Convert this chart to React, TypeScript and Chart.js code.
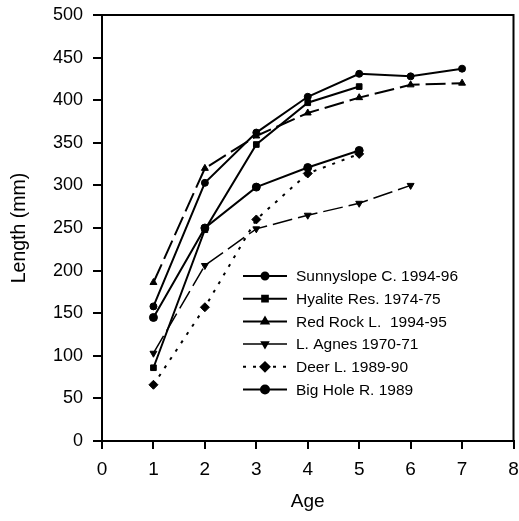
import React, { useEffect, useRef } from "react";
import { Chart, registerables } from "chart.js";
import { drawPoint } from "chart.js/helpers";

Chart.register(...registerables);

const seriesNames = [
  "Sunnyslope C. 1994-96",
  "Hyalite Res. 1974-75",
  "Red Rock L.  1994-95",
  "L. Agnes 1970-71",
  "Deer L. 1989-90",
  "Big Hole R. 1989",
];

const sunnyslopeAges = [1, 2, 3, 4, 5, 6, 7];
const sunnyslopeLength = [158, 303, 362, 404, 431, 428, 437];

const hyaliteAges = [1, 2, 3, 4, 5];
const hyaliteLength = [86, 248, 348, 397, 416];

const redRockAges = [1, 2, 3, 4, 5, 6, 7];
const redRockLength = [186, 320, 358, 385, 403, 418, 420];

const lAgnesAges = [1, 2, 3, 4, 5, 6];
const lAgnesLength = [103, 206, 249, 265, 279, 300];

const deerAges = [1, 2, 3, 4, 5];
const deerLength = [66, 157, 260, 314, 337];

const bigHoleAges = [1, 2, 3, 4, 5];
const bigHoleLength = [145, 250, 298, 321, 341];

const xTicks = [0, 1, 2, 3, 4, 5, 6, 7, 8];
const yTicks = [0, 50, 100, 150, 200, 250, 300, 350, 400, 450, 500];

const FONT = "'Liberation Sans', Arial, Helvetica, sans-serif";

function pts(ages: number[], vals: number[]) {
  return ages.map((a, i) => ({ x: a, y: vals[i] }));
}

const legendPlugin = {
  id: "customLegend",
  afterDatasetsDraw(chart: any) {
    const ctx = chart.ctx;
    ctx.save();
    chart.data.datasets.forEach((ds: any, i: number) => {
      const y = 276 + i * 22.7;
      ctx.beginPath();
      ctx.strokeStyle = "#000";
      ctx.lineWidth = ds.borderWidth;
      ctx.setLineDash(ds.legendDash || []);
      ctx.moveTo(243, y);
      ctx.lineTo(287, y);
      ctx.stroke();
      ctx.setLineDash([]);
      ctx.fillStyle = "#000";
      drawPoint(
        ctx,
        {
          pointStyle: ds.pointStyle,
          radius: ds.pointRadius,
          rotation: ds.pointRotation || 0,
          borderWidth: 1,
        },
        265,
        y
      );
      ctx.fillStyle = "#000";
      ctx.font = `15.5px ${FONT}`;
      ctx.textBaseline = "middle";
      ctx.textAlign = "left";
      ctx.fillText(ds.label, 296, y + 1);
    });
    ctx.restore();
  },
};

const boxPlugin = {
  id: "box",
  afterDraw(chart: any) {
    const { ctx, chartArea } = chart;
    ctx.save();
    ctx.strokeStyle = "#000";
    ctx.lineWidth = 2;
    ctx.beginPath();
    ctx.moveTo(chartArea.left, chartArea.top);
    ctx.lineTo(chartArea.right, chartArea.top);
    ctx.lineTo(chartArea.right, chartArea.bottom);
    ctx.stroke();
    ctx.restore();
  },
};

export default function App() {
  const ref = useRef<HTMLCanvasElement | null>(null);

  useEffect(() => {
    if (!ref.current) return;
    const common = {
      borderColor: "#000",
      backgroundColor: "#000",
      pointBackgroundColor: "#000",
      pointBorderColor: "#000",
      pointBorderWidth: 1,
      fill: false,
      tension: 0,
    };
    const chart = new Chart(ref.current, {
      type: "line",
      data: {
        datasets: [
          {
            ...common,
            label: seriesNames[0],
            data: pts(sunnyslopeAges, sunnyslopeLength),
            borderWidth: 2,
            pointStyle: "circle",
            pointRadius: 3.5,
          },
          {
            ...common,
            label: seriesNames[1],
            data: pts(hyaliteAges, hyaliteLength),
            borderWidth: 2,
            pointStyle: "rect",
            pointRadius: 4,
          },
          {
            ...common,
            label: seriesNames[2],
            data: pts(redRockAges, redRockLength),
            borderWidth: 2,
            borderDash: [20, 6],
            pointStyle: "triangle",
            pointRadius: 4,
          },
          {
            ...common,
            label: seriesNames[3],
            data: pts(lAgnesAges, lAgnesLength),
            borderWidth: 1.5,
            borderDash: [20, 6],
            pointStyle: "triangle",
            pointRotation: 180,
            pointRadius: 4,
          },
          {
            ...common,
            label: seriesNames[4],
            data: pts(deerAges, deerLength),
            borderWidth: 2,
            borderDash: [3, 7],
            legendDash: [3, 7],
            pointStyle: "rectRot",
            pointRadius: 4.5,
          },
          {
            ...common,
            label: seriesNames[5],
            data: pts(bigHoleAges, bigHoleLength),
            borderWidth: 2,
            pointStyle: "circle",
            pointRadius: 4,
          },
        ] as any,
      },
      options: {
        animation: false,
        responsive: false,
        layout: { padding: { top: 15, right: 5, left: 0, bottom: 0 } },
        plugins: {
          legend: { display: false },
          tooltip: { enabled: false },
          title: { display: false },
        },
        scales: {
          x: {
            type: "linear",
            min: 0,
            max: 8,
            afterBuildTicks: (s: any) => {
              s.ticks = xTicks.map((v) => ({ value: v }));
            },
            afterFit: (s: any) => {
              s.height = 80;
              s.paddingLeft = 0;
              s.paddingRight = 0;
            },
            ticks: {
              color: "#000",
              font: { family: FONT, size: 19 },
              padding: 9.5,
              maxRotation: 0,
            },
            grid: {
              display: true,
              drawOnChartArea: false,
              drawTicks: true,
              tickLength: 8,
              color: "#000",
              lineWidth: 2,
            },
            border: { display: true, color: "#000", width: 2 },
            title: {
              display: true,
              text: "Age",
              color: "#000",
              font: { family: FONT, size: 19 },
              padding: { top: 0, bottom: 8 },
            },
          },
          y: {
            type: "linear",
            min: 0,
            max: 500,
            afterBuildTicks: (s: any) => {
              s.ticks = yTicks.map((v) => ({ value: v }));
            },
            afterFit: (s: any) => {
              s.width = 102;
              s.paddingTop = 0;
              s.paddingBottom = 0;
            },
            ticks: {
              color: "#000",
              font: { family: FONT, size: 18 },
              padding: 10,
            },
            grid: {
              display: true,
              drawOnChartArea: false,
              drawTicks: true,
              tickLength: 9,
              color: "#000",
              lineWidth: 2,
            },
            border: { display: true, color: "#000", width: 2 },
            title: {
              display: true,
              text: "Length (mm)",
              color: "#000",
              font: { family: FONT, size: 19.5 },
              padding: { top: 8, bottom: 0 },
            },
          },
        },
      },
      plugins: [legendPlugin, boxPlugin],
    } as any);
    return () => chart.destroy();
  }, []);

  return (
    <div style={{ position: "absolute", left: 0, top: 0, width: 519, height: 521, background: "#fff" }}>
      <canvas ref={ref} width={519} height={521} style={{ width: 519, height: 521 }} />
    </div>
  );
}
